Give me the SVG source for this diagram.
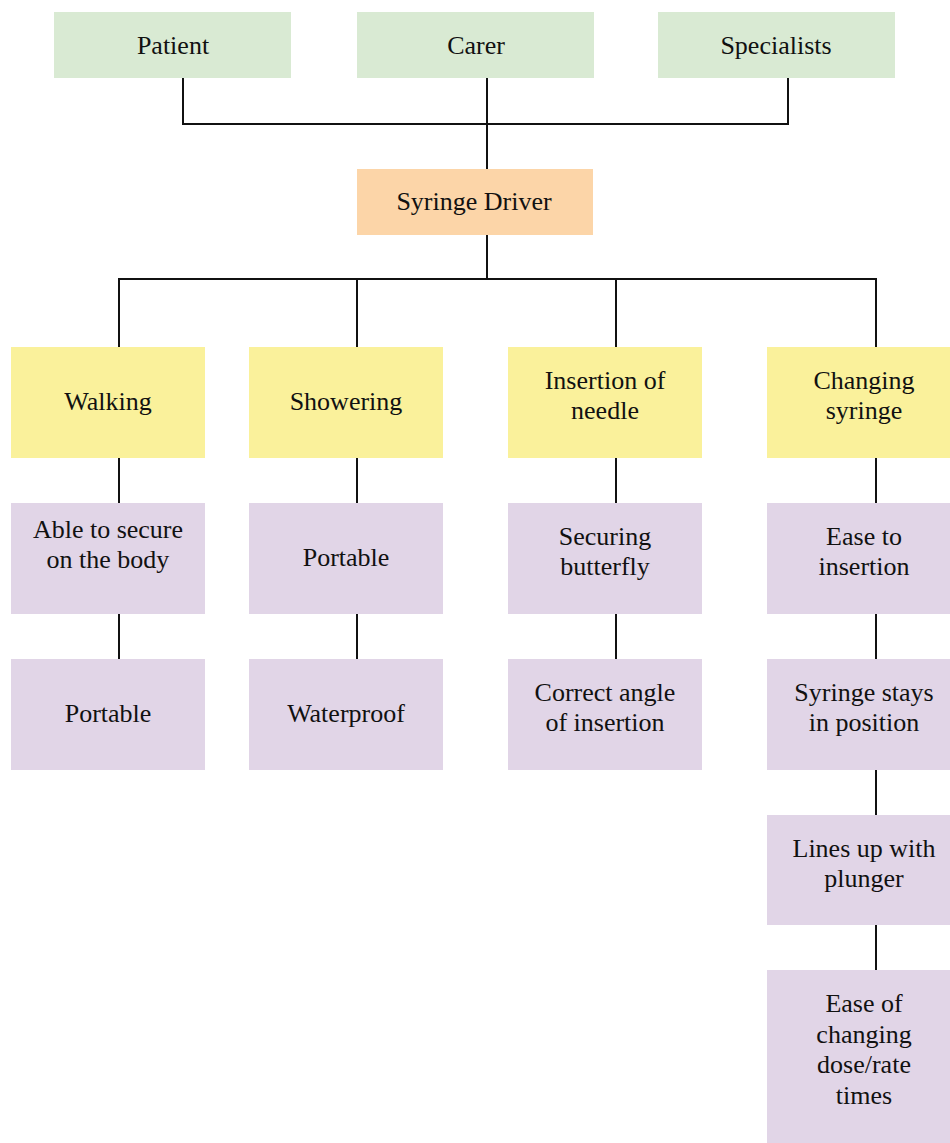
<svg xmlns="http://www.w3.org/2000/svg" width="950" height="1143" viewBox="0 0 950 1143">
<style>
.t{font-family:"Liberation Serif","Times New Roman",serif;font-size:26px;fill:#111;text-anchor:middle}
.g{fill:#d9ead3}.o{fill:#fcd5a8}.y{fill:#faf19b}.p{fill:#e1d5e7}
.c{stroke:#111;stroke-width:2;fill:none}
</style>
<rect width="950" height="1143" fill="#fff"/>
<g id="connectors" class="c">
<path d="M183 78V124H788V78M487 78V169"/>
<path d="M487 235V279M119 347V279H876V347M357 279V347M616 279V347"/>
<path d="M119 458V503M119 614V659"/>
<path d="M357 458V503M357 614V659"/>
<path d="M616 458V503M616 614V659"/>
<path d="M876 458V503M876 614V659M876 770V815M876 925V970"/>
</g>
<g id="patient"><rect class="g" x="54" y="12" width="237" height="66"/><text class="t" x="173" y="54">Patient</text></g>
<g id="carer"><rect class="g" x="357" y="12" width="237" height="66"/><text class="t" x="476" y="54">Carer</text></g>
<g id="specialists"><rect class="g" x="658" y="12" width="237" height="66"/><text class="t" x="776" y="54">Specialists</text></g>
<g id="syringe-driver"><rect class="o" x="357" y="169" width="236" height="66"/><text class="t" x="474" y="210">Syringe Driver</text></g>
<g id="walking"><rect class="y" x="11" y="347" width="194" height="111"/><text class="t" x="108" y="410">Walking</text></g>
<g id="showering"><rect class="y" x="249" y="347" width="194" height="111"/><text class="t" x="346" y="410">Showering</text></g>
<g id="insertion"><rect class="y" x="508" y="347" width="194" height="111"/><text class="t" x="605" y="389">Insertion of</text><text class="t" x="605" y="419">needle</text></g>
<g id="changing"><rect class="y" x="767" y="347" width="183" height="111"/><text class="t" x="864" y="389">Changing</text><text class="t" x="864" y="419">syringe</text></g>
<g id="able-to-secure"><rect class="p" x="11" y="503" width="194" height="111"/><text class="t" x="108" y="538">Able to secure</text><text class="t" x="108" y="568">on the body</text></g>
<g id="portable-1"><rect class="p" x="11" y="659" width="194" height="111"/><text class="t" x="108" y="722">Portable</text></g>
<g id="portable-2"><rect class="p" x="249" y="503" width="194" height="111"/><text class="t" x="346" y="566">Portable</text></g>
<g id="waterproof"><rect class="p" x="249" y="659" width="194" height="111"/><text class="t" x="346" y="722">Waterproof</text></g>
<g id="securing"><rect class="p" x="508" y="503" width="194" height="111"/><text class="t" x="605" y="545">Securing</text><text class="t" x="605" y="575">butterfly</text></g>
<g id="correct-angle"><rect class="p" x="508" y="659" width="194" height="111"/><text class="t" x="605" y="701">Correct angle</text><text class="t" x="605" y="731">of insertion</text></g>
<g id="ease-insertion"><rect class="p" x="767" y="503" width="183" height="111"/><text class="t" x="864" y="545">Ease to</text><text class="t" x="864" y="575">insertion</text></g>
<g id="syringe-stays"><rect class="p" x="767" y="659" width="183" height="111"/><text class="t" x="864" y="701">Syringe stays</text><text class="t" x="864" y="731">in position</text></g>
<g id="lines-up"><rect class="p" x="767" y="815" width="183" height="110"/><text class="t" x="864" y="857">Lines up with</text><text class="t" x="864" y="887">plunger</text></g>
<g id="ease-changing"><rect class="p" x="767" y="970" width="183" height="173"/><text class="t" x="864" y="1012">Ease of</text><text class="t" x="864" y="1043">changing</text><text class="t" x="864" y="1073">dose/rate</text><text class="t" x="864" y="1104">times</text></g>
</svg>
